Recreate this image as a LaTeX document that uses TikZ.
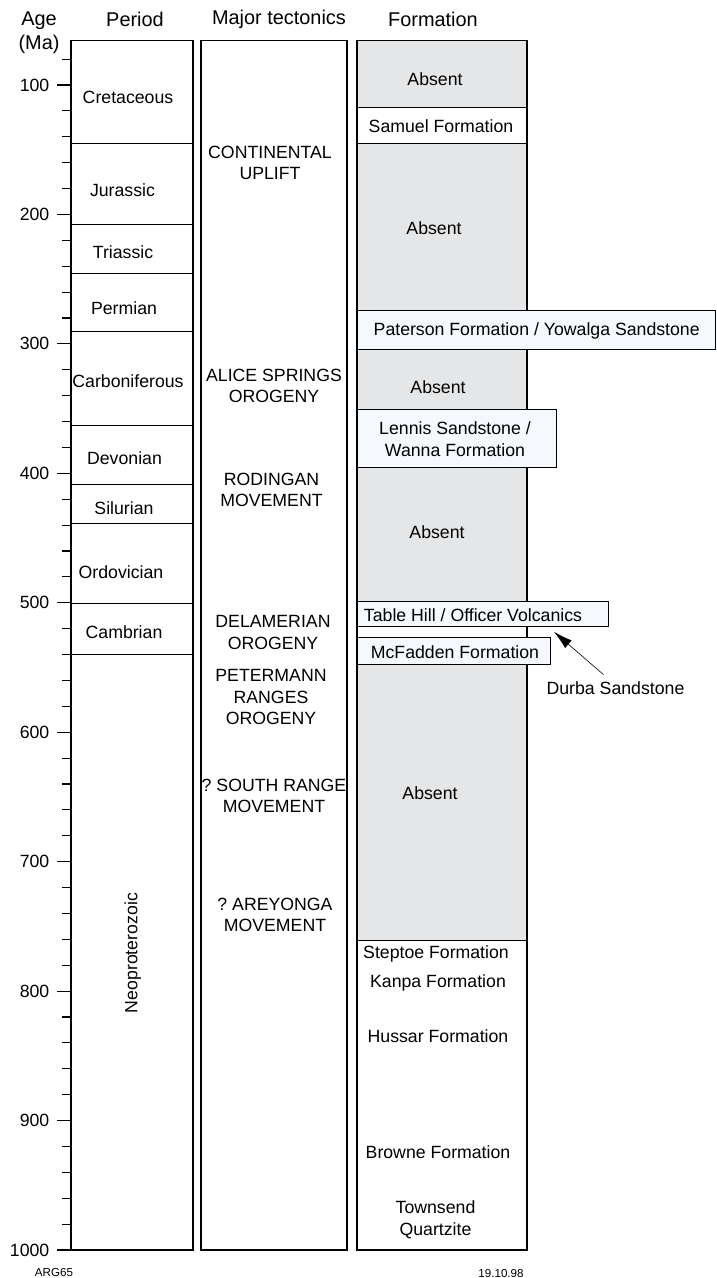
\documentclass[tikz,border=0pt]{standalone}
\usepackage{fontspec}
\setmainfont{Liberation Sans}
\usetikzlibrary{arrows.meta}
\definecolor{absentgrey}{HTML}{E5E6E8}
\definecolor{boxfill}{HTML}{F5F8FC}
\newcommand\bodyfont{\fontsize{17.7}{21.5}\selectfont}
\newcommand\hdrfont{\fontsize{19.9}{23.5}\selectfont}
\newcommand\smallfont{\fontsize{11.6}{13}\selectfont}
\frenchspacing
\begin{document}
\frenchspacing
\begin{tikzpicture}[x=1pt,y=-1.2944pt,
  lbl/.style={font=\bodyfont, inner sep=0pt, align=center},
  hdr/.style={font=\hdrfont, inner sep=0pt, align=center},
  tiny/.style={font=\smallfont, inner sep=0pt},
  col/.style={draw, line width=1.2pt},
  divider/.style={line width=0.9pt},
  tick/.style={line width=1.1pt},
  fmbox/.style={draw, line width=0.8pt, fill=boxfill},
  pointer/.style={line width=0.6pt, -{Latex[length=19pt,width=10pt]}}]
\useasboundingbox (0,34.33) rectangle (716,1021.66);

% headers
\node[hdr] (hage) at (39,50.2) {Age};
\node[hdr] (hma) at (39,68.6) {(Ma)};
\node[hdr] (hper) at (135,49.6) {Period};
\node[hdr] (htec) at (279,49.6) {Major tectonics};
\node[hdr] (hfm) at (433,49.6) {Formation};

% age axis
\foreach \a in {80,100,...,1000} \draw[tick] (62,\a) -- (71,\a);
\foreach \a in {100,200,...,1000} {
  \draw[tick] (57,\a) -- (71,\a);
  \node[lbl, anchor=east] (age\a) at (49.5,\a) {\a};
}

% period column
\foreach \a in {145.4,208,245.5,290.6,362.9,408.8,439,500.4,539.8}
  \draw[divider] (71,\a) -- (193,\a);
\draw[col] (71,65.8) rectangle (193,1000);
\node[lbl] (cret) at (128,109.3) {Cretaceous};
\node[lbl] (jur) at (122.5,181.1) {Jurassic};
\node[lbl] (tri) at (123,229.0) {Triassic};
\node[lbl] (perm) at (124,272.3) {Permian};
\node[lbl] (carb) at (128,328.7) {Carboniferous};
\node[lbl] (dev) at (124.5,388.5) {Devonian};
\node[lbl] (sil) at (124,426.8) {Silurian};
\node[lbl] (ord) at (121,476.0) {Ordovician};
\node[lbl] (camb) at (124,522.8) {Cambrian};
\node[lbl, rotate=90] (neo) at (132.7,770.6) {Neoproterozoic};

% tectonics column
\draw[col] (201,65.8) rectangle (347,1000);
\node[lbl] (cu) at (270,160.3) {CONTINENTAL\\UPLIFT};
\node[lbl] (aso) at (274,332.5) {ALICE SPRINGS\\OROGENY};
\node[lbl] (rm) at (271.5,412.9) {RODINGAN\\MOVEMENT};
\node[lbl] (do) at (273,523.0) {DELAMERIAN\\OROGENY};
\node[lbl] (pro) at (271,572.8) {PETERMANN\\RANGES\\OROGENY};
\node[lbl] (srm) at (274,649.3) {? SOUTH RANGE\\MOVEMENT};
\node[lbl] (am) at (275,741.2) {? AREYONGA\\MOVEMENT};

% formation column
\fill[absentgrey] (357,65.8) rectangle (527,117.2);
\fill[absentgrey] (357,145.4) rectangle (527,760.5);
\fill[white] (357,517.9) rectangle (527,527);
\draw[divider] (357,117.2) -- (527,117.2);
\draw[divider] (357,145.4) -- (527,145.4);
\draw[divider] (357,760.5) -- (527,760.5);
\draw[col] (357,65.8) rectangle (527,1000);
\draw[fmbox] (357,273.8) rectangle (715.4,304.2);
\draw[fmbox] (357,350.5) rectangle (556.7,395.3);
\draw[fmbox] (357,499.2) rectangle (608.7,517.9);
\draw[fmbox] (357,527.0) rectangle (550,547.3);

\node[lbl] (abs1) at (435,95.4) {Absent};
\node[lbl] (samuel) at (441,131.7) {Samuel Formation};
\node[lbl] (abs2) at (434,210.5) {Absent};
\node[lbl] (paterson) at (536.7,289.8) {Paterson Formation / Yowalga Sandstone};
\node[lbl] (abs3) at (438,333.8) {Absent};
\node[lbl] (lennis) at (455,373.7) {Lennis Sandstone /\\Wanna Formation};
\node[lbl] (abs4) at (437,445.3) {Absent};
\node[lbl] (tablehill) at (473,509.4) {Table Hill / Officer Volcanics};
\node[lbl] (mcfadden) at (455,537.8) {McFadden Formation};
\node[lbl] (abs5) at (430,647.0) {Absent};
\node[lbl] (steptoe) at (436,771.4) {Steptoe Formation};
\node[lbl] (kanpa) at (438,794.0) {Kanpa Formation};
\node[lbl] (hussar) at (438,835.2) {Hussar Formation};
\node[lbl] (browne) at (438,924.1) {Browne Formation};
\node[lbl] (townsend) at (435.5,976.6) {Townsend\\Quartzite};
\node[lbl] (durba) at (615.5,566.1) {Durba Sandstone};
\coordinate (durbatip) at (554,522.4);
\draw[pointer] ([xshift=-12pt,yshift=7pt]durba.north) -- (durbatip);

% footer
\node[tiny] (arg) at (54,1017.6) {ARG65};
\node[tiny] (date) at (501,1018.0) {19.10.98};
\end{tikzpicture}
\end{document}
